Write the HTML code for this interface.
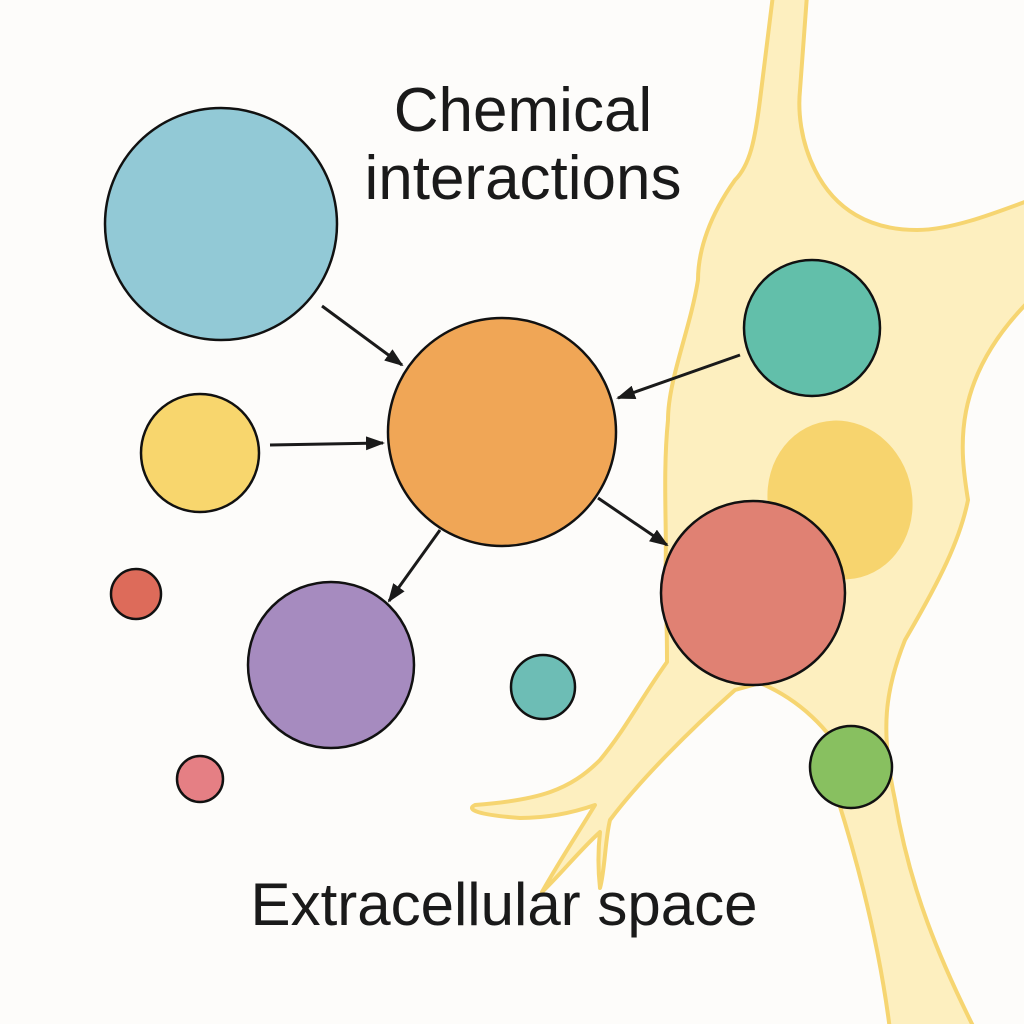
<!DOCTYPE html>
<html><head><style>
html,body{margin:0;padding:0;background:#fdfcfa;}
svg{display:block;}
text{font-family:"Liberation Sans",sans-serif;fill:#1a1a1a;}
</style></head><body>
<svg width="1024" height="1024" viewBox="0 0 1024 1024">
<rect width="1024" height="1024" fill="#fdfcfa"/>
<defs><marker id="a" markerWidth="20" markerHeight="16" refX="17" refY="7" orient="auto" markerUnits="userSpaceOnUse"><path d="M0,0 L19,7 L0,14 z" fill="#1a1a1a"/></marker></defs>
<path d="M773,-5 L760,100 C755,140 750,165 735,180 C710,215 698,250 698,280 C690,330 668,380 668,420 C662,480 668,540 665,580 C667,620 667,650 667,662 C640,700 625,730 600,760 C570,790 540,800 475,805 C465,810 480,815 520,818 C550,818 575,812 595,805 C580,830 560,860 542,892 C560,875 580,850 600,832 C598,850 598,870 600,888 C605,870 605,840 610,820 C640,780 690,730 735,690 L760,683 C800,700 830,730 845,760 L838,800 C860,870 880,950 890,1030 L975,1030 C940,960 910,890 895,800 C880,730 885,690 905,640 C940,580 960,540 968,500 C960,450 950,380 1030,300 L1030,200 C990,215 950,230 917,230 C870,230 835,210 815,170 C800,140 798,110 800,90 L807,-5 Z" fill="#fdefbf" stroke="#f6d571" stroke-width="4" stroke-linejoin="round"/>
<ellipse cx="840" cy="500" rx="72" ry="80" transform="rotate(-15 840 500)" fill="#f7d46e"/>
<g stroke="#111" stroke-width="2.5">
<circle cx="221" cy="224" r="116" fill="#92c9d6"/>
<circle cx="502" cy="432" r="114" fill="#f0a656"/>
<circle cx="200" cy="453" r="59" fill="#f8d66d"/>
<circle cx="812" cy="328" r="68" fill="#62bfaa"/>
<circle cx="753" cy="593" r="92" fill="#e08173"/>
<circle cx="136" cy="594" r="25" fill="#dd6b5a"/>
<circle cx="331" cy="665" r="83" fill="#a68bbf"/>
<circle cx="543" cy="687" r="32" fill="#6dbdb5"/>
<circle cx="200" cy="779" r="23" fill="#e57f84"/>
<circle cx="851" cy="767" r="41" fill="#88c060"/>
</g>
<g stroke="#1a1a1a" stroke-width="3" marker-end="url(#a)">
<line x1="322" y1="306" x2="402" y2="365"/>
<line x1="270" y1="445" x2="383" y2="443"/>
<line x1="740" y1="355" x2="618" y2="398"/>
<line x1="440" y1="530" x2="389" y2="601"/>
<line x1="598" y1="498" x2="667" y2="545"/>
</g>
<text x="523" y="131" font-size="62" text-anchor="middle">Chemical</text>
<text x="523" y="199" font-size="62" text-anchor="middle">interactions</text>
<text x="504" y="925" font-size="60" text-anchor="middle">Extracellular space</text>
</svg>
</body></html>
